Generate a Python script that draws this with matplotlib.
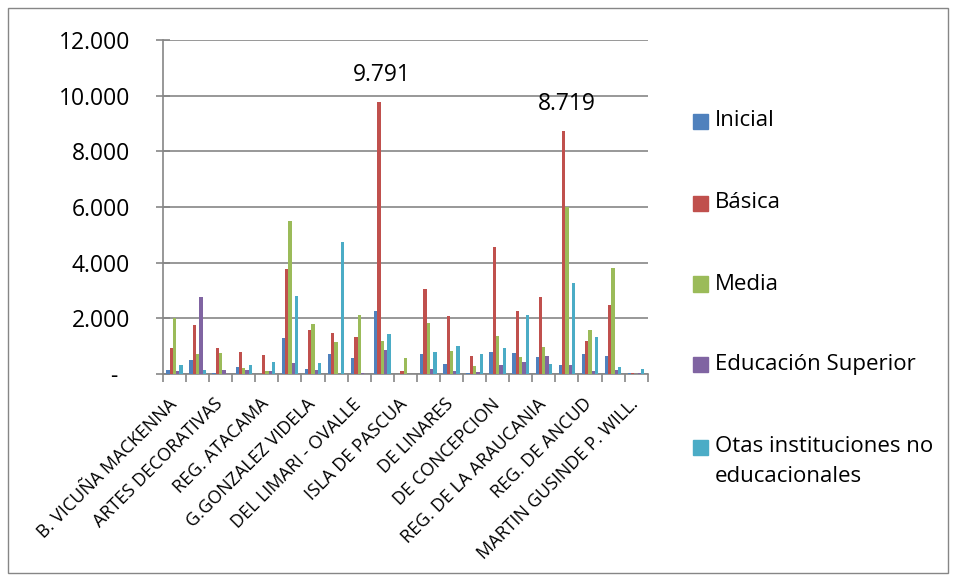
import matplotlib.pyplot as plt
import matplotlib.patches as mpatches
import numpy as np

plt.rcParams['font.family'] = ['Open Sans', 'DejaVu Sans']

# 21 museums on the axis, only every other one is labelled in the original
shown_labels = ['B. VICUÑA MACKENNA', 'ARTES DECORATIVAS', 'REG. ATACAMA',
                'G.GONZALEZ VIDELA', 'DEL LIMARI - OVALLE', 'ISLA DE PASCUA',
                'DE LINARES', 'DE CONCEPCION', 'REG. DE LA ARAUCANIA',
                'REG. DE ANCUD', 'MARTIN GUSINDE P. WILL.']

series_names = ['Inicial', 'Básica', 'Media', 'Educación Superior',
                'Otas instituciones no\neducacionales']

inicial = [130, 500, 36, 250, 0, 1280, 180, 720, 575, 2275, 0,
           705, 360, 36, 800, 765, 600, 310, 720, 650, 36]
basica = [920, 1770, 950, 780, 680, 3760, 1580, 1460, 1340, 9791, 120,
          3050, 2080, 650, 4550, 2275, 2755, 8719, 1185, 2465, 24]
media = [2020, 720, 770, 230, 110, 5500, 1800, 1160, 2110, 1200, 575,
         1820, 815, 290, 1365, 620, 980, 5990, 1580, 3810, 10]
superior = [110, 2780, 140, 160, 110, 400, 160, 0, 50, 860, 0,
            180, 110, 60, 320, 440, 650, 335, 95, 155, 48]
otras = [320, 140, 20, 320, 440, 2800, 400, 4740, 0, 1450, 20,
         800, 1020, 705, 920, 2140, 350, 3290, 1330, 265, 170]

colors = ['#4F81BD', '#C0504D', '#9BBB59', '#8064A2', '#4BACC6']
all_series = [inicial, basica, media, superior, otras]

fig = plt.figure(figsize=(9.56, 5.8), dpi=100)
ax = fig.add_axes([0.1705, 0.355, 0.507, 0.576])

n = len(inicial)
x = np.arange(n)
w = 0.143
for i, (vals, c) in enumerate(zip(all_series, colors)):
    ax.bar(x + (i - 2) * w, vals, width=w, color=c, zorder=3)

# data labels on the two biggest bars
for idx in [9, 17]:
    ax.text(idx, basica[idx] + 970, f'{basica[idx] / 1000:.3f}',
            ha='center', va='center', fontsize=16.5)

ax.set_xlim(-0.5, n - 0.5)
ax.set_ylim(0, 12000)
yt = np.arange(0, 12001, 2000)
ax.set_yticks(yt)
ax.set_yticklabels(['-  '] + [f'{v // 1000}.000' for v in yt[1:]], fontsize=16.5)
ax.tick_params(axis='y', length=9.5, pad=19, color='#868686', direction='inout',
               width=1.2)
ax.yaxis.grid(True, color='#868686', linewidth=1.2, zorder=0)

ax.set_xticks(np.arange(-0.5, n, 1))
ax.set_xticklabels([])
ax.tick_params(axis='x', length=6, color='#868686', direction='out', width=1.2)
for k, lab in enumerate(shown_labels):
    ax.text(2 * k - 0.3, -750, lab, rotation=45, ha='right', va='top',
            rotation_mode='anchor', fontsize=13)

for s in ['top', 'right']:
    ax.spines[s].set_visible(False)
for s in ['left', 'bottom']:
    ax.spines[s].set_color('#868686')
    ax.spines[s].set_linewidth(1.2)

# legend drawn by hand so the wrapped last entry lines up like the original
leg_y = [121, 203, 284, 364.5, 447]
for name, c, yy in zip(series_names, colors, leg_y):
    yf = 1 - yy / 580
    fig.patches.append(mpatches.Rectangle((693 / 956, yf - 7.5 / 580), 15 / 956, 15 / 580,
                                          transform=fig.transFigure, color=c))
    lines = name.split('\n')
    for j, line in enumerate(lines):
        fig.text(715 / 956, 1 - (yy + 30 * j) / 580, line, fontsize=16, va='center')

fig.patches.append(mpatches.Rectangle((0.008, 0.012), 0.984, 0.975,
                                      transform=fig.transFigure, fill=False,
                                      edgecolor='#868686', linewidth=1))

plt.savefig('out.png', dpi=100)
